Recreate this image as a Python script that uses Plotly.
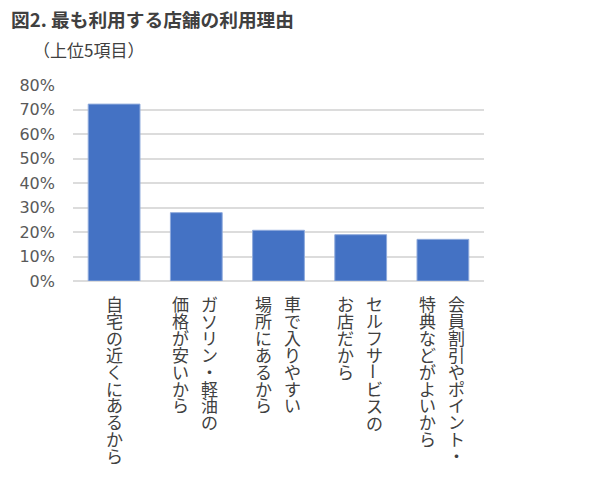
import plotly.graph_objects as go

# Survey: top 5 reasons for choosing the most-used fuel station (%)
label_lines = [
    ["自宅の近くにあるから"],
    ["ガソリン・軽油の", "価格が安いから"],
    ["車で入りやすい", "場所にあるから"],
    ["セルフサービスの", "お店だから"],
    ["会員割引やポイント・", "特典などがよいから"],
]
values = [72.2, 27.9, 20.7, 18.9, 17.0]
y_ticks = [0, 10, 20, 30, 40, 50, 60, 70, 80]
y_tick_text = ["0%", "10%", "20%", "30%", "40%", "50%", "60%", "70%", "80%"]

categories = ["".join(lines) for lines in label_lines]

W, H = 600, 477
M_L, M_R, M_T, M_B = 73, 116, 85, 196

JP = "Noto Sans CJK JP"
TEXT = "#404040"

fig = go.Figure(
    go.Bar(
        x=categories,
        y=values,
        marker=dict(color="#4472C4", line=dict(color="#8FAADC", width=1)),
        hovertemplate="%{y:.1f}%<extra></extra>",
    )
)

# Vertical (tategaki) category labels, columns read right to left.
# Each column is one stacked text block: the base font sets the line pitch
# (1.3 x 13px ~ 17px) while the inner span draws the glyphs at 17px.
# The long-vowel mark "ー" is turned upright as in vertical typesetting.
CHAR_PITCH = 17
COL_GAP = 29
BASE = 13
GLYPH = 17


def stacked(chars):
    return "<br>".join(f"<span style='font-size:{GLYPH}px'>{c}</span>" for c in chars)


annotations = []
for cat, lines in zip(categories, label_lines):
    n = len(lines)
    for li, line in enumerate(lines):
        xshift = (n - 1) / 2 * COL_GAP - li * COL_GAP - 1 * (n > 1)
        # split the column into runs around "ー"
        runs, start = [], 0
        for ci, ch in enumerate(line):
            if ch == "ー":
                if ci > start:
                    runs.append((start, line[start:ci], False))
                runs.append((ci, ch, True))
                start = ci + 1
        if start < len(line):
            runs.append((start, line[start:], False))
        for k, seg, turned in runs:
            if turned:
                annotations.append(dict(
                    x=cat, xref="x", y=0, yref="y",
                    xshift=xshift, yshift=-(22 + CHAR_PITCH * k),
                    text=seg, showarrow=False, textangle=90,
                    xanchor="center", yanchor="middle", borderpad=0,
                    font=dict(family=JP, size=GLYPH, color=TEXT),
                ))
            else:
                annotations.append(dict(
                    x=cat, xref="x", y=0, yref="y",
                    xshift=xshift, yshift=-(9 + CHAR_PITCH * k),
                    text=stacked(seg), showarrow=False,
                    xanchor="center", yanchor="top", borderpad=0,
                    font=dict(family=JP, size=BASE, color=TEXT),
                ))

# Subtitle under the main heading (placed in pixels, converted to paper units)
pw, ph = W - M_L - M_R, H - M_T - M_B
annotations.append(dict(
    x=(31 - M_L) / pw, xref="paper",
    y=(H - M_B - 50) / ph, yref="paper",
    text="（上位5項目）", showarrow=False,
    xanchor="left", yanchor="middle",
    font=dict(family=JP, size=17, color=TEXT),
))

fig.update_layout(
    width=W, height=H,
    margin=dict(l=M_L, r=M_R, t=M_T, b=M_B, pad=0),
    paper_bgcolor="white", plot_bgcolor="white",
    title=dict(
        text="<b>図2. 最も利用する店舗の利用理由</b>",
        xref="container", yref="container",
        x=11 / W, xanchor="left",
        y=1 - 20 / H, yanchor="middle",
        font=dict(family=JP, size=18.7, color=TEXT),
    ),
    bargap=0.37,
    showlegend=False,
    annotations=annotations,
    xaxis=dict(
        showticklabels=False, showgrid=False, zeroline=False,
        showline=False, ticks="", range=[-0.5, 4.5],
    ),
    yaxis=dict(
        range=[0, 80], tickmode="array", tickvals=y_ticks, ticktext=y_tick_text,
        showgrid=True, gridcolor="#DCDCDC", gridwidth=1.5,
        zeroline=True, zerolinecolor="#DCDCDC", zerolinewidth=1.5,
        showline=False, ticks="", ticklabelstandoff=17,
        tickfont=dict(family="DejaVu Sans", size=16, color="#595959"),
    ),
)

fig.write_html("out.html")
